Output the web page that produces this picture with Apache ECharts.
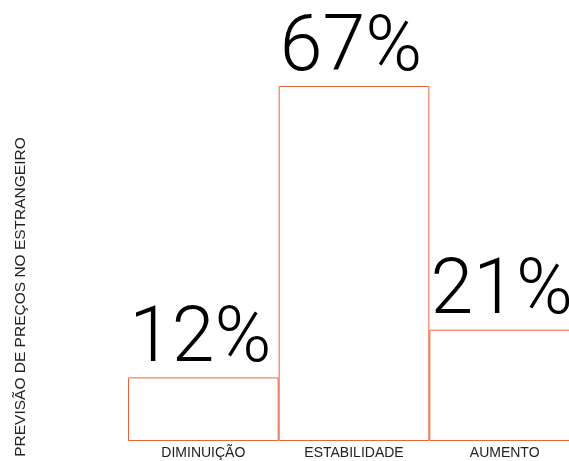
<!DOCTYPE html>
<html>
<head>
<meta charset="utf-8">
<script src="https://cdn.jsdelivr.net/npm/echarts@6/dist/echarts.min.js"></script>
<style>
  html, body { margin: 0; padding: 0; background: #fff; }
  #chart { width: 569px; height: 461px; }
</style>
</head>
<body>
<div id="chart"></div>
<script>
// Expectativa de preços no estrangeiro (% de respostas)
const categories = ['DIMINUIÇÃO', 'ESTABILIDADE', 'AUMENTO'];
const shares = [12, 67, 21];
const axisTitle = 'PREVISÃO DE PREÇOS NO ESTRANGEIRO';

const accent = '#e8643c';

const chart = echarts.init(document.getElementById('chart'), null, { renderer: 'canvas' });

chart.setOption({
  animation: false,
  backgroundColor: '#ffffff',
  // the last bar runs past the right edge of the canvas
  grid: {
    left: 128, width: 452, top: 86, bottom: 20,
    containLabel: false,
    outerBoundsMode: 'none'
  },
  xAxis: {
    type: 'category',
    data: categories,
    axisLine: { show: false },
    axisTick: { show: false },
    axisLabel: {
      color: '#222',
      fontFamily: 'Liberation Sans, Arial, sans-serif',
      fontSize: 14,
      margin: 5
    }
  },
  yAxis: {
    type: 'value',
    min: 0,
    max: 67,
    show: false
  },
  graphic: [{
    type: 'text',
    x: 21,
    y: 297,
    rotation: Math.PI / 2,
    style: {
      text: axisTitle,
      fill: '#222',
      font: '15.5px "Liberation Sans", Arial, sans-serif',
      align: 'center',
      verticalAlign: 'middle'
    }
  }],
  series: [{
    type: 'bar',
    data: shares,
    barWidth: '100%',
    barCategoryGap: '0%',
    barGap: '0%',
    itemStyle: {
      color: 'rgba(255,255,255,0)',
      borderColor: accent,
      borderWidth: 1
    },
    label: {
      show: true,
      position: 'top',
      distance: -3,
      offset: [-3, 0],
      formatter: '{c}%',
      color: '#000',
      fontFamily: 'Roboto, sans-serif',
      fontWeight: 300,
      fontSize: 77
    }
  }]
});
</script>
</body>
</html>
